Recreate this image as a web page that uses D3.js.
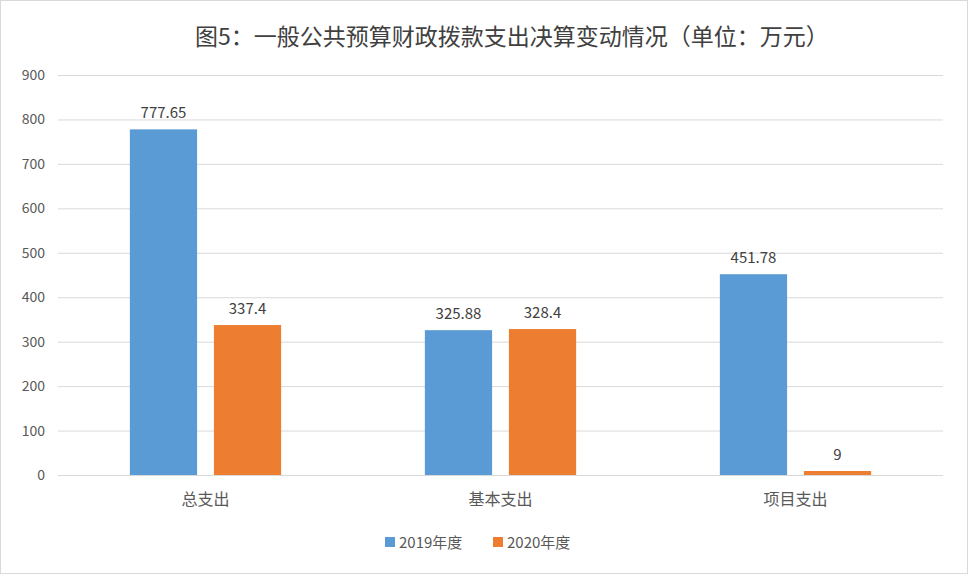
<!DOCTYPE html>
<html>
<head>
<meta charset="UTF-8">
<script src="https://d3js.org/d3.v7.min.js"></script>
<style>body{margin:0;background:#fff}</style>
</head>
<body>
<svg id="chart" width="968" height="574"></svg>
<script>
var categories = ["总支出", "基本支出", "项目支出"];
var seriesNames = ["2019年度", "2020年度"];
var values2019 = [777.65, 325.88, 451.78];
var values2020 = [337.4, 328.4, 9];
var yTicks = [0, 100, 200, 300, 400, 500, 600, 700, 800, 900];
var colors = ["#5b9bd5", "#ed7d31"];
var font = "'Noto Sans CJK SC', 'Noto Sans', sans-serif";

var svg = d3.select("#chart");
svg.append("rect").attr("x", 0.5).attr("y", 0.5).attr("width", 967).attr("height", 573)
  .attr("fill", "#fff").attr("stroke", "#d9d9d9");

var x = d3.scaleBand().domain(categories).range([58, 943]);
var y = d3.scaleLinear().domain([0, 900]).range([475, 75]);
var sub = d3.scaleBand().domain(seriesNames).range([0, x.bandwidth()]).paddingInner(0.2).paddingOuter(0.855);

svg.append("text").attr("x", 512).attr("y", 45).attr("text-anchor", "middle")
  .attr("font-family", font).attr("font-size", 23).attr("fill", "#404040")
  .text("图5：一般公共预算财政拨款支出决算变动情况（单位：万元）");

var g = svg.append("g");
g.selectAll("line.grid").data(yTicks).enter().append("line")
  .attr("x1", 58).attr("x2", 943).attr("y1", d => y(d) + 0.5).attr("y2", d => y(d) + 0.5)
  .attr("stroke", "#d9d9d9");
g.selectAll("text.yt").data(yTicks).enter().append("text")
  .attr("x", 45).attr("y", d => y(d) + 5).attr("text-anchor", "end")
  .attr("font-family", font).attr("font-size", 14).attr("fill", "#595959").text(d => d);

var data = categories.map((c, i) => [values2019[i], values2020[i]]);
categories.forEach(function(c, i) {
  data[i].forEach(function(v, j) {
    var bx = x(c) + sub(seriesNames[j]);
    g.append("rect").attr("x", bx).attr("y", y(v)).attr("width", sub.bandwidth())
      .attr("height", y(0) - y(v)).attr("fill", colors[j]);
    g.append("text").attr("x", bx + sub.bandwidth() / 2).attr("y", y(v) - 11)
      .attr("text-anchor", "middle").attr("font-family", font).attr("font-size", 15)
      .attr("fill", "#404040").text(v);
  });
  g.append("text").attr("x", x(c) + x.bandwidth() / 2).attr("y", 505).attr("text-anchor", "middle")
    .attr("font-family", font).attr("font-size", 16).attr("fill", "#595959").text(c);
});

var legend = svg.append("g");
var lx = [385, 493];
seriesNames.forEach(function(s, j) {
  legend.append("rect").attr("x", lx[j]).attr("y", 537).attr("width", 10).attr("height", 10).attr("fill", colors[j]);
  legend.append("text").attr("x", lx[j] + 14).attr("y", 548).attr("font-family", font)
    .attr("font-size", 15).attr("fill", "#595959").text(s);
});
</script>
</body>
</html>
